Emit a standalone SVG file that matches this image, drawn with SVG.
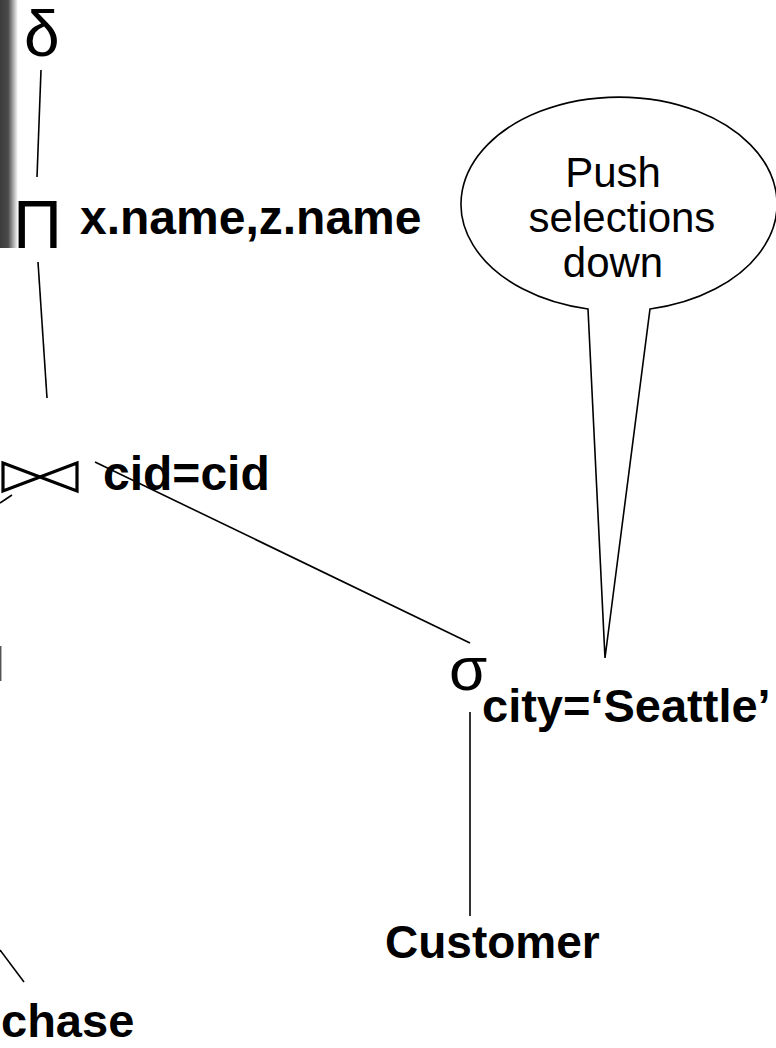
<svg xmlns="http://www.w3.org/2000/svg" width="776" height="1048" viewBox="0 0 776 1048">
  <defs>
    <linearGradient id="edgeShade" x1="0" y1="0" x2="1" y2="0">
      <stop offset="0" stop-color="#3c3c3c"/>
      <stop offset="0.45" stop-color="#4a4a4a"/>
      <stop offset="1" stop-color="#ffffff"/>
    </linearGradient>
    <style>
      .op { font-family: "Liberation Sans", Arial, sans-serif; fill: #000; }
      .lbl { font-family: "Liberation Sans", Arial, sans-serif; font-weight: bold; font-size: 47px; fill: #000; }
      .lbl.wide { font-size: 48px; }
      .lbl.narrow { font-size: 46px; }
      .note { font-family: "Liberation Sans", Arial, sans-serif; font-size: 42px; fill: #000; text-anchor: middle; }
      .edge { stroke: #000; stroke-width: 1.6; fill: none; }
    </style>
  </defs>

  <rect width="776" height="1048" fill="#fff"/>

  <!-- shaded edge of the cut-off panel at the top left -->
  <rect x="0" y="0" width="18" height="248" fill="url(#edgeShade)"/>
  <line x1="0.7" y1="646" x2="0.7" y2="681" stroke="#555" stroke-width="1.5"/>

  <!-- connectors -->
  <g id="connectors">
    <line class="edge" x1="41" y1="70" x2="37" y2="177"/>
    <line class="edge" x1="38" y1="262" x2="47" y2="398"/>
    <line class="edge" x1="12" y1="495" x2="0" y2="503"/>
    <line class="edge" x1="95" y1="462" x2="470" y2="643"/>
    <line class="edge" x1="470" y1="712" x2="470" y2="916"/>
    <line class="edge" x1="0" y1="950" x2="24" y2="982"/>
  </g>

  <!-- duplicate elimination -->
  <g id="node-delta">
    <text class="op" x="24" y="56" font-size="64">δ</text>
  </g>

  <!-- projection -->
  <g id="node-project">
    <text class="op" x="13" y="248" font-size="68">Π</text>
    <text class="lbl wide" x="80" y="234">x.name,z.name</text>
  </g>

  <!-- join -->
  <g id="node-join">
    <path d="M3,463 L40,477 L3,491 Z M77,463 L40,477 L77,491 Z" fill="none" stroke="#000" stroke-width="3.2" stroke-linejoin="miter"/>
    <text class="lbl wide" x="103" y="490">cid=cid</text>
  </g>

  <!-- selection -->
  <g id="node-select">
    <text class="op" x="449" y="690" font-size="62">σ</text>
    <text class="lbl" x="482" y="722">city=‘Seattle’</text>
  </g>

  <!-- base relations -->
  <g id="node-customer">
    <text class="lbl narrow" x="385" y="958">Customer</text>
  </g>
  <g id="node-purchase">
    <text class="lbl" x="1" y="1037">chase</text>
  </g>

  <!-- callout -->
  <g id="callout">
    <path d="M588,309 A158,107 0 1,1 650,309 L605,658 Z" fill="#fff" stroke="#000" stroke-width="1.6" stroke-linejoin="miter"/>
    <text class="note" x="613" y="187">Push</text>
    <text class="note" x="622" y="232">selections</text>
    <text class="note" x="613" y="277">down</text>
  </g>
</svg>
